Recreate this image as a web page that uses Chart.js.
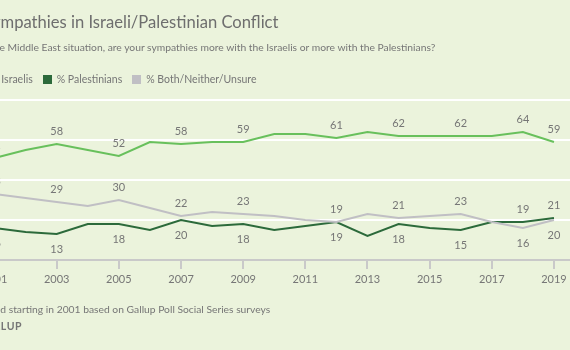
<!DOCTYPE html>
<html><head><meta charset="utf-8">
<script src="https://cdn.jsdelivr.net/npm/chart.js@4.4.1/dist/chart.umd.min.js"></script>
<style>
html,body{margin:0;padding:0;}
body{width:570px;height:350px;overflow:hidden;position:relative;background:#ebf3dc;font-family:Lato,'Open Sans',sans-serif;color:#767676;}
.t{position:absolute;white-space:nowrap;line-height:1;}
#title{top:14px;font-size:16.6px;color:#6e6e6e;}
#sub{top:42px;font-size:10.3px;}
#legend{top:74px;font-size:10.5px;display:flex;align-items:center;}
#legend .sw{width:9px;height:9px;margin-right:5px;display:inline-block;}
#legend .it{display:flex;align-items:center;margin-right:10px;}
#note{top:304px;font-size:10.3px;}
#brand{top:321px;font-size:10.5px;font-weight:bold;letter-spacing:0.6px;}
#wrap{position:absolute;left:-40px;top:0;}
</style></head>
<body>
<div id="wrap"><canvas id="c" width="650" height="350"></canvas></div>
<div id="title" class="t"></div>
<div id="sub" class="t"></div>
<div id="legend" class="t"></div>
<div id="note" class="t"></div>
<div id="brand" class="t"></div>
<script>
// ---- data ----
const years = [2001,2002,2003,2004,2005,2006,2007,2008,2009,2010,2011,2012,2013,2014,2015,2016,2017,2018,2019];
const israelis     = [51,55,58,55,52,59,58,59,59,63,63,61,64,62,62,62,62,64,59];
const palestinians = [16,14,13,18,18,15,20,17,18,15,17,19,12,18,16,15,19,19,21];
const bothNeither  = [33,31,29,27,30,26,22,24,23,22,20,19,23,21,22,23,19,16,20];
const tickYears = [2001,2003,2005,2007,2009,2011,2013,2015,2017,2019];
const labelYears = [2001,2003,2005,2007,2009,2012,2014,2016,2018,2019];
const seriesNames = ['% Israelis','% Palestinians','% Both/Neither/Unsure'];
const titleText = ["Americans' Sy", "mpathies in Israeli/Palestinian Conflict"];
const subText = ["In th", "e Middle East situation, are your sympathies more with the Israelis or more with the Palestinians?"];
const noteText = ["Question aske", "d starting in 2001 based on Gallup Poll Social Series surveys"];
const brandText = ["GAL", "LUP"];

const colors = ['#68c05c','#2c6a3b','#c0bfc4'];
const textGrey = '#767676';

function place(id, parts, x){
  const el = document.getElementById(id);
  const a = document.createElement('span'); a.textContent = parts[0];
  const b = document.createElement('span'); b.textContent = parts[1];
  el.append(a,b);
  el.style.left = (x - a.getBoundingClientRect().width) + 'px';
}
place('title', titleText, 0.5);
place('sub', subText, -0.5);
place('note', noteText, 0.3);
place('brand', brandText, 0.8);

// legend
const lg = document.getElementById('legend');
const sws = [];
seriesNames.forEach((n,i)=>{
  const it = document.createElement('span'); it.className='it';
  const sw = document.createElement('span'); sw.className='sw'; sw.style.background = colors[i];
  const tx = document.createElement('span'); tx.textContent = n;
  it.append(sw,tx); lg.append(it); sws.push(sw);
});
lg.style.left = '0px';
const off = sws[1].getBoundingClientRect().left - lg.getBoundingClientRect().left;
lg.style.left = (42.7 - off) + 'px';

Chart.defaults.font.family = "Lato, 'Open Sans', sans-serif";
Chart.defaults.color = textGrey;

const labelPlugin = {
  id: 'ptLabels',
  afterDatasetsDraw(chart){
    const ctx = chart.ctx;
    ctx.save();
    ctx.font = "11px Lato, 'Open Sans', sans-serif";
    ctx.fillStyle = textGrey;
    ctx.textAlign = 'center';
    ctx.textBaseline = 'middle';
    chart.data.datasets.forEach((ds, di)=>{
      const meta = chart.getDatasetMeta(di);
      meta.data.forEach((pt, i)=>{
        const yr = years[i];
        if (!labelYears.includes(yr)) return;
        const below = ds.labelBelow(yr);
        const v = ds.data[i].y;
        ctx.fillText(String(v), pt.x, pt.y + (below ? 15 : -13));
      });
    });
    ctx.restore();
  }
};

const mk = (arr)=> years.map((y,i)=>({x:y, y:arr[i]}));

new Chart(document.getElementById('c'), {
  type: 'line',
  data: {
    datasets: [
      {label: seriesNames[0], data: mk(israelis), borderColor: colors[0], labelBelow: ()=>false},
      {label: seriesNames[1], data: mk(palestinians), borderColor: colors[1], labelBelow: (y)=> !(y===2018||y===2019)},
      {label: seriesNames[2], data: mk(bothNeither), borderColor: colors[2], labelBelow: (y)=> (y===2018||y===2019)}
    ].reverse()
  },
  options: {
    responsive: false,
    animation: false,
    layout: {padding: {left: 0, right: 0, top: 100, bottom: 60}},
    elements: {line: {borderWidth: 2, tension: 0}, point: {radius: 0}},
    plugins: {legend: {display: false}, tooltip: {enabled: false}},
    scales: {
      x: {
        type: 'linear', min: 1999.889, max: 2020.803,
        afterBuildTicks: (s)=>{ s.ticks = tickYears.map(v=>({value:v})); },
        afterFit: (s)=>{ s.height = 30; },
        ticks: {autoSkip: false, maxRotation: 0, padding: 4, font: {size: 11}, color: textGrey,
                callback: (v)=> String(v)},
        grid: {display: true, drawOnChartArea: false, drawTicks: true, tickLength: 9, color: '#c9c9c9', lineWidth: 2},
        border: {display: true, color: '#c9c9c9', width: 2}
      },
      y: {
        min: 0, max: 80,
        ticks: {display: false, stepSize: 20},
        grid: {drawTicks: false, lineWidth: 2, color: (c)=> c.tick && c.tick.value === 0 ? 'rgba(0,0,0,0)' : '#ffffff'},
        border: {display: false}
      }
    }
  },
  plugins: [labelPlugin]
});
</script>
</body></html>
